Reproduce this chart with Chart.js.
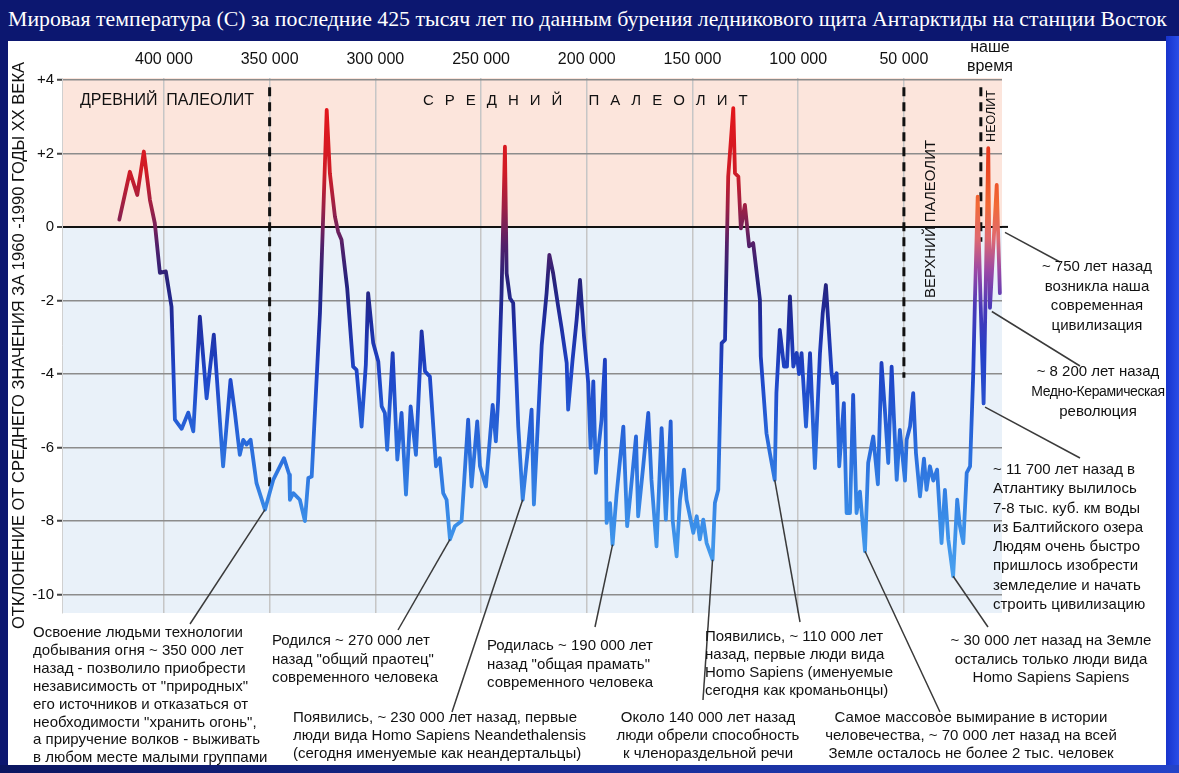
<!DOCTYPE html>
<html lang="ru">
<head>
<meta charset="utf-8">
<title>Мировая температура за 425 тысяч лет</title>
<script src="https://cdn.jsdelivr.net/npm/chart.js@4.4.1/dist/chart.umd.min.js"></script>
<style>
  html, body { margin: 0; padding: 0; }
  body { width: 1179px; height: 773px; position: relative; overflow: hidden;
         background: #0c1770; font-family: 'Liberation Sans', Arial, sans-serif; }
  #panel { position: absolute; left: 8px; top: 41px; width: 1158px; height: 724px; background: #fff; }
  #rightEdge { position: absolute; left: 1166px; top: 36px; width: 13px; height: 737px;
               background: linear-gradient(to right, #1733cc, #2a4ee8); }
  #bottomEdge { position: absolute; left: 0; top: 765px; width: 1179px; height: 8px;
                background: linear-gradient(to right, #0b1660, #2443c8); }
  #title { position: absolute; left: 8px; top: 7px; color: #fff; white-space: nowrap;
           font-family: 'Liberation Serif', 'Times New Roman', serif; font-size: 21px; }
  canvas { position: absolute; left: 0; top: 0; }
  .note { position: absolute; font-size: 15px; line-height: 18px; color: #111; white-space: nowrap; }
  .c { text-align: center; }
</style>
</head>
<body>
<div id="panel"></div>
<div id="rightEdge"></div>
<div id="bottomEdge"></div>
<div id="title">Мировая температура (С) за последние 425 тысяч лет по данным бурения ледникового щита Антарктиды на станции Восток</div>
<canvas id="tempChart" width="1179" height="773"></canvas>

<div class="note" style="left:33px; top:623px; line-height:17.9px;">Освоение людьми технологии<br>добывания огня ~ 350 000 лет<br>назад - позволило приобрести<br>независимость от "природных"<br>его источников и отказаться от<br>необходимости "хранить огонь",<br>а приручение волков - выживать<br>в любом месте малыми группами</div>
<div class="note" style="left:272px; top:631px; line-height:18.7px;">Родился ~ 270 000 лет<br>назад "общий праотец"<br>современного человека</div>
<div class="note" style="left:487px; top:636px; line-height:18.5px;">Родилась ~ 190 000 лет<br>назад "общая прамать"<br>современного человека</div>
<div class="note" style="left:293px; top:708px;">Появились, ~ 230 000 лет назад, первые<br>люди вида Homo Sapiens Neandethalensis<br>(сегодня именуемые как неандертальцы)</div>
<div class="note" style="left:705px; top:627px;">Появились, ~ 110 000 лет<br>назад, первые люди вида<br>Homo Sapiens (именуемые<br>сегодня как кроманьонцы)</div>
<div class="note c" style="left:608px; top:708px; width:200px;">Около 140 000 лет назад<br>люди обрели способность<br>к членораздельной речи</div>
<div class="note c" style="left:771px; top:708px; width:400px;">Самое массовое вымирание в истории<br>человечества, ~ 70 000 лет назад на всей<br>Земле осталось не более 2 тыс. человек</div>
<div class="note c" style="left:931px; top:631px; width:240px; line-height:18.5px;">~ 30 000 лет назад на Земле<br>остались только люди вида<br>Homo Sapiens Sapiens</div>
<div class="note c" style="left:1027px; top:256px; width:140px; line-height:19.5px;">~ 750 лет назад<br>возникла наша<br>современная<br>цивилизация</div>
<div class="note c" style="left:1028px; top:361px; width:140px; line-height:20px;">~ 8 200 лет назад<br><span style="font-size:14px; letter-spacing:-0.4px;">Медно-Керамическая</span><br>революция</div>
<div class="note" style="left:993px; top:459px; line-height:19.3px;">~ 11 700 лет назад в<br>Атлантику вылилось<br>7-8 тыс. куб. км воды<br>из Балтийского озера<br>Людям очень быстро<br>пришлось изобрести<br>земледелие и начать<br>строить цивилизацию</div>

<script>
// thousands of years before present
const yearsAgo = [
  421.1, 416.1, 412.6, 409.5, 406.6, 404.3, 401.9, 399.1, 396.4, 394.8,
  391.6, 388.5, 386.1, 383.0, 379.8, 376.4, 372.0, 368.5, 366.4, 364.1,
  362.5, 360.9, 359.0, 356.2, 352.2, 348.3, 343.2, 340.7, 340.4, 338.8,
  335.7, 333.3, 331.7, 330.1, 326.2, 323.0, 321.5, 319.1, 317.6, 316.0,
  313.3, 310.5, 308.9, 306.5, 304.5, 303.4, 301.0, 298.6, 297.0, 295.5,
  294.4, 291.8, 289.6, 287.6, 285.5, 283.3, 280.8, 278.1, 276.5, 274.2,
  271.3, 269.5, 267.9, 266.3, 264.7, 262.4, 259.2, 256.1, 254.5, 251.8,
  250.5, 247.7, 244.5, 243.0, 241.9, 240.3, 238.7, 237.9, 236.3, 234.8,
  233.2, 232.4, 230.3, 227.7, 226.1, 225.0, 221.3, 219.0, 217.7, 215.9,
  213.5, 211.9, 209.5, 208.8, 206.7, 204.8, 203.2, 201.3, 199.3, 198.2,
  196.9, 195.7, 193.0, 191.4, 190.6, 189.0, 187.8, 185.9, 182.7, 180.9,
  179.3, 176.7, 175.7, 173.3, 170.9, 169.4, 167.0, 164.6, 162.6, 160.3,
  159.4, 157.5, 155.9, 154.0, 152.8, 149.6, 148.0, 146.5, 144.9, 143.3,
  140.5, 139.4, 137.8, 136.2, 134.6, 133.1, 130.7, 129.9, 128.3, 127.1,
  125.2, 123.2, 121.3, 118.1, 117.7, 115.0, 113.4, 111.1, 110.3, 108.7,
  106.7, 105.3, 103.9, 102.3, 100.7, 99.6, 98.4, 96.3, 94.4, 92.1,
  89.7, 88.4, 86.9, 84.2, 83.5, 81.8, 80.6, 78.4, 77.1, 75.5,
  74.0, 72.4, 70.8, 68.4, 66.9, 64.5, 62.3, 60.6, 59.0, 57.4,
  55.8, 53.4, 51.9, 49.5, 48.7, 47.1, 45.6, 44.3, 42.4, 40.5,
  39.3, 37.7, 36.1, 34.3, 32.2, 30.6, 29.0, 26.7, 24.8, 23.5,
  21.9, 20.3, 18.7, 17.2, 16.4, 15.1, 14.0, 12.3, 10.1, 9.3,
  6.1, 4.6
];
// deviation from the 1960-1990 mean, °C
const tempDev = [
  0.2, 1.5, 0.87, 2.05, 0.73, 0.1, -1.25, -1.21, -2.17, -5.24,
  -5.49, -5.05, -5.56, -2.44, -4.66, -2.93, -6.51, -4.16, -5.06, -6.2,
  -5.79, -5.92, -5.79, -6.97, -7.69, -6.88, -6.29, -6.74, -7.42, -7.24,
  -7.42, -8.0, -6.83, -6.79, -2.35, 3.18, 1.46, 0.28, -0.13, -0.35,
  -1.67, -3.8, -3.89, -5.43, -3.75, -1.8, -3.16, -3.66, -4.88, -5.06,
  -6.06, -3.43, -6.33, -5.06, -7.28, -4.88, -6.2, -2.84, -3.93, -4.07,
  -6.51, -6.29, -7.24, -7.42, -8.5, -8.14, -8.0, -5.24, -7.06, -5.29,
  -6.51, -7.06, -4.84, -5.83, -4.7, -1.8, 2.18, -1.26, -1.94, -2.07,
  -4.25, -5.43, -7.42, -5.97, -4.97, -7.55, -3.21, -1.8, -0.76, -1.26,
  -2.17, -2.75, -3.7, -4.97, -3.61, -2.53, -1.44, -2.98, -4.25, -6.01,
  -4.2, -6.69, -5.24, -3.61, -8.05, -7.51, -8.64, -7.28, -5.43, -8.14,
  -7.24, -5.7, -7.87, -6.51, -5.06, -6.88, -8.69, -5.47, -7.96, -5.29,
  -7.96, -8.96, -7.42, -6.6, -7.42, -8.32, -7.87, -8.5, -7.96, -8.6,
  -9.05, -7.51, -7.15, -3.16, -3.07, 1.37, 3.23, 1.46, 1.37, -0.04,
  0.6, -0.53, -0.44, -1.98, -3.52, -5.61, -6.15, -6.88, -4.52, -2.8,
  -3.8, -3.8, -1.89, -3.8, -3.43, -4.0, -3.43, -5.43, -3.43, -6.56,
  -3.43, -2.35, -1.58, -3.98, -4.25, -3.98, -6.51, -4.79, -7.78, -7.78,
  -4.57, -7.78, -7.2, -8.82, -6.42, -5.7, -7.0, -3.7, -4.97, -6.42,
  -3.8, -6.88, -5.52, -6.9, -5.79, -5.43, -4.52, -6.15, -7.33, -6.3,
  -7.15, -6.51, -6.9, -6.6, -8.6, -7.15, -8.5, -9.5, -7.42, -8.14,
  -8.6, -6.69, -6.51, -3.98, -1.98, 0.82, -1.5, -4.8, 2.14, -2.2,
  1.14, -1.8
];
const xTickYears = [400, 350, 300, 250, 200, 150, 100, 50];
const periodBorders = [350, 50, 13.6];   // dashed dividers, thousand years ago
const nowLabel = ['наше', 'время'];

// annotation leaders: point on the curve -> text
const leaders = [
  { at: [352.2, -7.69], to: [190, 624] },
  { at: [264.7, -8.5],  to: [398, 630] },
  { at: [230.3, -7.42], to: [452, 712] },
  { at: [187.8, -8.64], to: [595, 627] },
  { at: [140.5, -9.05], to: [703, 700] },
  { at: [111.1, -6.88], to: [800, 622] },
  { at: [68.4, -8.82],  to: [940, 712] },
  { at: [26.7, -9.5],   to: [988, 627] },
  { at: [2.2, -0.15],   to: [1060, 262] },
  { at: [8.4, -2.3],    to: [1080, 366] },
  { at: [11.6, -4.9],   to: [1080, 458] }
];

// fit the title to the frame width
const titleEl = document.getElementById('title');
let fs = 21;
titleEl.style.fontSize = fs + 'px';
while (titleEl.offsetWidth < 1158 && fs < 30) { fs += 0.1; titleEl.style.fontSize = fs + 'px'; }
while (titleEl.offsetWidth > 1160 && fs > 14) { fs -= 0.1; titleEl.style.fontSize = fs + 'px'; }

Chart.defaults.font.family = "'Liberation Sans', Arial, sans-serif";
Chart.defaults.color = '#111';

let orangeGrad = null;

function makeGrad(ctx, y, stops) {
  const top = 3.3, bottom = -9.6;
  const g = ctx.createLinearGradient(0, y.getPixelForValue(top), 0, y.getPixelForValue(bottom));
  stops.forEach(([v, c]) => g.addColorStop((top - v) / (top - bottom), c));
  return g;
}

function spacedText(ctx, text, x, y, gap) {
  for (const ch of text) {
    ctx.fillText(ch, x, y);
    x += ctx.measureText(ch).width + gap;
  }
}

function vText(ctx, text, x, y, font) {
  ctx.save();
  ctx.translate(x, y);
  ctx.rotate(-Math.PI / 2);
  ctx.font = font;
  ctx.textAlign = 'center';
  ctx.textBaseline = 'middle';
  ctx.fillText(text, 0, 0);
  ctx.restore();
}

const decorPlugin = {
  id: 'decor',
  afterLayout(chart) {
    const y = chart.scales.y;
    chart.$mainGrad = makeGrad(chart.ctx, y, [
      [3.3, '#e3161b'], [1.5, '#d01c26'], [0.5, '#9a2046'], [-0.5, '#52206a'],
      [-1.5, '#26237c'], [-2.5, '#1f2c9e'], [-4, '#1e45c8'], [-6, '#2a6cdc'],
      [-8, '#3a8de8'], [-9.6, '#4aa2ef']
    ]);
    orangeGrad = makeGrad(chart.ctx, y, [
      [3.3, '#e02418'], [1.8, '#e8401f'], [0.6, '#f26a36'], [-0.3, '#e06a70'],
      [-1.2, '#9a48a6'], [-2.2, '#4838b8'], [-3.5, '#2440c8'], [-9.6, '#3a8ae4']
    ]);
  },
  beforeDraw(chart) {
    const { ctx, chartArea: a, scales: { y } } = chart;
    const y0 = y.getPixelForValue(0);
    ctx.save();
    ctx.fillStyle = '#fce5dc';
    ctx.fillRect(a.left, a.top, a.right - a.left, y0 - a.top);
    ctx.fillStyle = '#e9f1f9';
    ctx.fillRect(a.left, y0, a.right - a.left, a.bottom - y0);
    ctx.restore();
  },
  beforeDatasetsDraw(chart) {
    const { ctx, chartArea: a, scales: { x, y } } = chart;
    ctx.save();
    // zero line runs a little past the plot
    ctx.strokeStyle = '#111';
    ctx.lineWidth = 2;
    ctx.beginPath();
    ctx.moveTo(a.right, y.getPixelForValue(0));
    ctx.lineTo(a.right + 6, y.getPixelForValue(0));
    ctx.stroke();
    // period dividers
    const bottoms = [-7.15, -4.1, -0.4];
    ctx.setLineDash([9, 6]);
    ctx.lineWidth = 3;
    periodBorders.forEach((p, i) => {
      const px = x.getPixelForValue(p);
      ctx.beginPath();
      ctx.moveTo(px, y.getPixelForValue(3.8));
      ctx.lineTo(px, y.getPixelForValue(bottoms[i]));
      ctx.stroke();
    });
    ctx.restore();
  },
  afterDatasetsDraw(chart) {
    const { ctx, scales: { x, y } } = chart;
    ctx.save();
    ctx.fillStyle = '#111';
    ctx.textBaseline = 'middle';
    ctx.font = "16px 'Liberation Sans', Arial, sans-serif";
    ctx.fillText('ДРЕВНИЙ  ПАЛЕОЛИТ', 80, 101);
    ctx.font = "15px 'Liberation Sans', Arial, sans-serif";
    spacedText(ctx, 'СРЕДНИЙ ПАЛЕОЛИТ', 423, 101, 11);
    vText(ctx, 'ВЕРХНИЙ ПАЛЕОЛИТ', 931, 219, "15px 'Liberation Sans', Arial, sans-serif");
    vText(ctx, 'НЕОЛИТ', 992, 116, "12.5px 'Liberation Sans', Arial, sans-serif");

    // "наше время" above the right edge
    ctx.font = "16px 'Liberation Sans', Arial, sans-serif";
    ctx.textAlign = 'center';
    const nx = x.getPixelForValue(9.3);
    ctx.fillText(nowLabel[0], nx, 48);
    ctx.fillText(nowLabel[1], nx, 67);

    // leader lines
    ctx.strokeStyle = '#3a3a3a';
    ctx.lineWidth = 1.5;
    leaders.forEach(l => {
      ctx.beginPath();
      ctx.moveTo(x.getPixelForValue(l.at[0]), y.getPixelForValue(l.at[1]));
      ctx.lineTo(l.to[0], l.to[1]);
      ctx.stroke();
    });
    ctx.restore();
  }
};

const ctx = document.getElementById('tempChart').getContext('2d');
const tempChart = new Chart(ctx, {
  type: 'line',
  data: {
    datasets: [{
      label: 'Отклонение температуры',
      data: yearsAgo.map((yr, i) => ({ x: yr, y: tempDev[i] })),
      borderColor: c => c.chart.$mainGrad || '#1e45c8',
      borderWidth: 3.8,
      borderJoinStyle: 'round',
      borderCapStyle: 'round',
      pointRadius: 0,
      tension: 0,
      fill: false,
      segment: {
        borderColor: s => (s.p0.parsed.x <= 17.2 && orangeGrad) ? orangeGrad : undefined
      }
    }]
  },
  options: {
    responsive: false,
    animation: false,
    events: [],
    layout: { padding: { left: 0, top: 0, right: 177, bottom: 160 } },
    plugins: { legend: { display: false }, tooltip: { enabled: false } },
    scales: {
      x: {
        type: 'linear',
        position: 'top',
        reverse: true,
        min: 3.6,
        max: 448.2,
        afterFit: s => { s.height = 78; },
        afterBuildTicks: s => { s.ticks = xTickYears.map(v => ({ value: v })); },
        grid: { color: '#c6c6c6', lineWidth: 1.5, drawTicks: false },
        border: { display: false },
        ticks: {
          autoSkip: false,
          maxRotation: 0,
          padding: 9,
          font: { size: 16 },
          callback: v => v + ' 000'
        }
      },
      y: {
        min: -10.5,
        max: 4.05,
        afterFit: s => { s.width = 62; },
        grid: {
          color: c => c.tick && c.tick.value === 0 ? '#111' : '#8c8c8c',
          lineWidth: c => c.tick && c.tick.value === 0 ? 2 : 1.5,
          tickLength: 5,
          tickColor: '#444',
          tickWidth: 2
        },
        border: { display: true, color: '#d0d0d0', width: 1 },
        ticks: {
          stepSize: 2,
          includeBounds: false,
          padding: 3,
          font: { size: 15 },
          callback: v => v > 0 ? '+' + v : String(v)
        },
        title: {
          display: true,
          text: 'ОТКЛОНЕНИЕ ОТ СРЕДНЕГО ЗНАЧЕНИЯ ЗА 1960 -1990 ГОДЫ XX ВЕКА',
          font: { size: 16.5 },
          padding: { top: 10, bottom: 0 }
        }
      }
    }
  },
  plugins: [decorPlugin]
});
</script>
</body>
</html>
